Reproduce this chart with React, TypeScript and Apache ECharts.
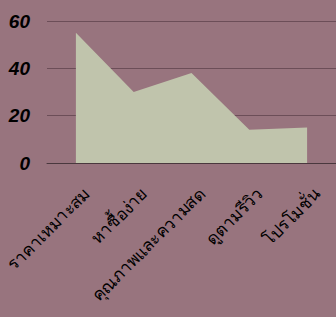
import React, { useEffect, useRef } from "react";
import * as echarts from "echarts";

const categories = ["ราคาเหมาะสม", "หาซื้อง่าย", "คุณภาพและความสด", "ดูตามรีวิว", "โปรโมชั่น"];
const values = [55, 30, 38, 14, 15];
const yTicks = [0, 20, 40, 60];

export default function App() {
  const ref = useRef<HTMLDivElement>(null);
  useEffect(() => {
    document.body.style.margin = "0";
    const chart = echarts.init(ref.current!, undefined, { renderer: "svg" });
    chart.setOption({
      animation: false,
      backgroundColor: "#98747e",
      grid: { left: 47, right: 0, top: 21, bottom: 154, containLabel: false },
      xAxis: {
        type: "category",
        data: categories,
        boundaryGap: true,
        axisLine: { show: true, lineStyle: { color: "#4a383e", width: 1 } },
        axisTick: { show: false },
        axisLabel: {
          rotate: 45,
          interval: 0,
          margin: 17,
          color: "#000",
          fontSize: 17,
          fontFamily: "Noto Sans, sans-serif",
          verticalAlign: "top",
          padding: [6, 0, 0, 0],
        },
      },
      yAxis: {
        type: "value",
        min: yTicks[0],
        max: yTicks[yTicks.length - 1],
        interval: 20,
        axisLine: { show: false },
        axisTick: { show: false },
        splitLine: { lineStyle: { color: "#6c4e58", width: 1 } },
        axisLabel: {
          color: "#000",
          fontSize: 19,
          fontWeight: "bold",
          fontStyle: "italic",
          fontFamily: "Liberation Sans, sans-serif",
          margin: 17,
        },
      },
      series: [
        {
          type: "line",
          data: values,
          symbol: "none",
          lineStyle: { width: 0, color: "#c0c4ac" },
          areaStyle: { color: "#c0c4ac", opacity: 1 },
        },
      ],
    });
    return () => chart.dispose();
  }, []);
  return <div ref={ref} style={{ position: "fixed", left: 0, top: 0, width: 336, height: 317 }} />;
}
